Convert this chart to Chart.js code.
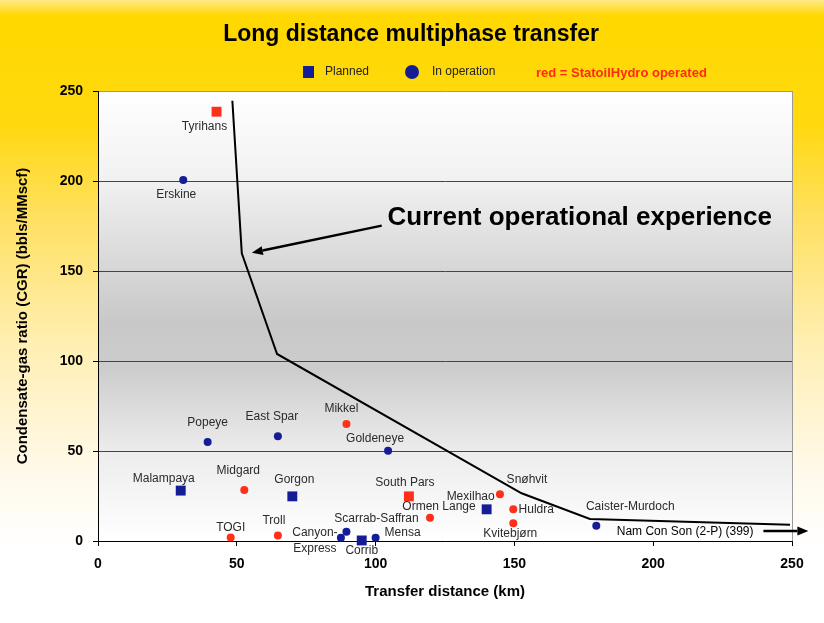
<!DOCTYPE html>
<html>
<head>
<meta charset="utf-8">
<script src="https://cdn.jsdelivr.net/npm/chart.js@4.4.0/dist/chart.umd.min.js"></script>
<style>
html, body { margin: 0; padding: 0; background: #fff; }
#wrap { width: 824px; height: 623px; position: relative; }
</style>
</head>
<body>
<div id="wrap"><canvas id="chart"></canvas></div>
<script>
// projects: name, transfer distance (km), CGR (bbls/MMscf)
const names = ['Tyrihans', 'Erskine', 'Popeye', 'East Spar', 'Mikkel', 'Goldeneye',
  'Malampaya', 'Midgard', 'Gorgon', 'South Pars', 'Snøhvit', 'Mexilhao',
  'Ormen Lange', 'Huldra', 'Kvitebjørn', 'Scarrab-Saffran', ['Canyon-', 'Express'],
  'Corrib', 'Mensa', 'TOGI', 'Troll', 'Caister-Murdoch'];
const distKm = [42.7, 30.7, 39.5, 64.8, 89.5, 104.5,
  29.8, 52.7, 70, 112, 144.8, 140,
  119.6, 149.6, 149.6, 89.5, 87.5,
  95, 100, 47.8, 64.8, 179.5];
const cgr = [238.5, 200.5, 55, 58.2, 65, 50.2,
  28, 28.3, 24.8, 24.8, 26, 17.6,
  12.9, 17.6, 9.8, 5.2, 1.8,
  0.3, 1.8, 2, 3.1, 8.5];
const planned = [true, false, false, false, false, false,
  true, false, true, true, false, true,
  false, false, false, false, false,
  true, false, false, false, false];
const statoil = [true, false, false, false, true, false,
  false, true, false, true, true, false,
  true, true, true, false, false,
  false, false, true, true, false];

// label offsets from the point, px
const labelDx = [-12, -7, 0, -6, -5, -13, -17, -6, 2, -4, 27, -16, 9, 23, -3, 30, -26, 0, 27, 0, -4, 34];
const labelDy = [15, 15, -19, -20, -15, -12, -12, -19, -17, -14, -15, -13, -11, 0, 10, -13, -5, 10, -5, -10, -15, -19];

// current operational experience curve
const expKm = [48.4, 51.8, 64.5, 152.6, 177.2, 249.3];
const expCgr = [244.6, 159.8, 103.9, 26.5, 12.2, 9];

const arrows = [
  { from: [102.2, 175.2], to: [55.4, 160.1] },
  { from: [239.7, 5.6], to: [255.9, 5.6] }
];
const notes = [
  { text: 'Current operational experience', at: [104.3, 179.5], align: 'left', font: 'bold 26px "Liberation Sans", Arial, sans-serif' },
  { text: 'Nam Con Son (2-P) (399)', at: [211.5, 5], align: 'center', font: '12px "Liberation Sans", Arial, sans-serif' }
];

const NAVY = '#141c96';
const RED = '#ff3019';
const FONT = '"Liberation Sans", Arial, sans-serif';

function pts(isPlanned) {
  const out = [];
  names.forEach((n, i) => {
    if (planned[i] === isPlanned) out.push({ x: distKm[i], y: cgr[i], c: statoil[i] ? RED : NAVY });
  });
  return out;
}
const plannedPts = pts(true);
const opPts = pts(false);

const backdrop = {
  id: 'backdrop',
  beforeDraw(chart) {
    const { ctx, width, height, chartArea: a } = chart;
    ctx.save();
    let g = ctx.createLinearGradient(0, 0, 0, height);
    g.addColorStop(0, '#ffe98a');
    g.addColorStop(0.025, '#ffd800');
    g.addColorStop(0.2, '#ffd90f');
    g.addColorStop(0.35, '#ffe062');
    g.addColorStop(0.55, '#ffefb2');
    g.addColorStop(0.75, '#fff9e8');
    g.addColorStop(0.88, '#ffffff');
    ctx.fillStyle = g;
    ctx.fillRect(0, 0, width, height);
    g = ctx.createLinearGradient(0, a.top, 0, a.bottom);
    g.addColorStop(0, '#ffffff');
    g.addColorStop(0.2, '#f1f1f1');
    g.addColorStop(0.4, '#d6d6d6');
    g.addColorStop(0.52, '#c8c8c8');
    g.addColorStop(0.62, '#cdcdcd');
    g.addColorStop(0.8, '#ececec');
    g.addColorStop(1, '#ffffff');
    ctx.fillStyle = g;
    ctx.fillRect(a.left, a.top, a.right - a.left, a.bottom - a.top);
    ctx.restore();
  },
  afterDraw(chart) {
    const { ctx, chartArea: a } = chart;
    const xs = chart.scales.x, ys = chart.scales.y;
    ctx.save();
    // right frame
    ctx.strokeStyle = '#9a9a9a';
    ctx.lineWidth = 1;
    ctx.beginPath();
    ctx.moveTo(a.right + 0.5, a.top);
    ctx.lineTo(a.right + 0.5, a.bottom);
    ctx.stroke();

    // title
    ctx.fillStyle = '#000';
    ctx.textAlign = 'center';
    ctx.textBaseline = 'middle';
    ctx.font = 'bold 23px ' + FONT;
    ctx.fillText('Long distance multiphase transfer', 411, 35);

    // legend
    ctx.fillStyle = NAVY;
    ctx.fillRect(303, 66, 11, 12);
    ctx.beginPath();
    ctx.arc(412, 72, 7, 0, Math.PI * 2);
    ctx.fill();
    ctx.fillStyle = '#222';
    ctx.textAlign = 'left';
    ctx.font = '12px ' + FONT;
    ctx.fillText('Planned', 325, 72);
    ctx.fillText('In operation', 432, 72);
    ctx.fillStyle = '#ff2a10';
    ctx.font = 'bold 13px ' + FONT;
    ctx.fillText('red = StatoilHydro operated', 536, 73);

    // point labels
    ctx.fillStyle = '#2b2b2b';
    ctx.font = '12px ' + FONT;
    ctx.textAlign = 'center';
    names.forEach((n, i) => {
      const px = xs.getPixelForValue(distKm[i]) + labelDx[i];
      const py = ys.getPixelForValue(cgr[i]) + labelDy[i];
      const lines = Array.isArray(n) ? n : [n];
      lines.forEach((t, k) => ctx.fillText(t, px, py + k * 16));
    });

    // notes
    notes.forEach(nt => {
      ctx.font = nt.font;
      ctx.textAlign = nt.align;
      ctx.fillStyle = '#000';
      ctx.fillText(nt.text, xs.getPixelForValue(nt.at[0]), ys.getPixelForValue(nt.at[1]));
    });

    // arrows
    ctx.strokeStyle = '#000';
    ctx.fillStyle = '#000';
    ctx.lineWidth = 2.5;
    arrows.forEach(ar => {
      const x1 = xs.getPixelForValue(ar.from[0]), y1 = ys.getPixelForValue(ar.from[1]);
      const x2 = xs.getPixelForValue(ar.to[0]), y2 = ys.getPixelForValue(ar.to[1]);
      const ang = Math.atan2(y2 - y1, x2 - x1);
      const len = 11, w = 4.5;
      const bx = x2 - len * Math.cos(ang), by = y2 - len * Math.sin(ang);
      ctx.beginPath();
      ctx.moveTo(x1, y1);
      ctx.lineTo(bx, by);
      ctx.stroke();
      ctx.beginPath();
      ctx.moveTo(x2, y2);
      ctx.lineTo(bx + w * Math.sin(ang), by - w * Math.cos(ang));
      ctx.lineTo(bx - w * Math.sin(ang), by + w * Math.cos(ang));
      ctx.closePath();
      ctx.fill();
    });
    ctx.restore();
  }
};

new Chart(document.getElementById('chart'), {
  type: 'scatter',
  data: {
    datasets: [
      {
        label: 'Current operational experience',
        type: 'line',
        data: expKm.map((x, i) => ({ x, y: expCgr[i] })),
        borderColor: '#000',
        borderWidth: 2,
        pointRadius: 0,
        fill: false,
        tension: 0
      },
      {
        label: 'Planned',
        data: plannedPts,
        pointStyle: 'rect',
        pointRadius: 7,
        pointHoverRadius: 7,
        borderWidth: 0,
        backgroundColor: plannedPts.map(p => p.c),
        clip: false
      },
      {
        label: 'In operation',
        data: opPts,
        pointStyle: 'circle',
        pointRadius: 4,
        pointHoverRadius: 4,
        borderWidth: 0,
        backgroundColor: opPts.map(p => p.c),
        clip: false
      }
    ]
  },
  options: {
    responsive: true,
    maintainAspectRatio: false,
    animation: false,
    layout: { padding: { top: 91, right: 32, left: 0, bottom: 0 } },
    plugins: { legend: { display: false }, tooltip: { enabled: false } },
    scales: {
      x: {
        type: 'linear',
        min: 0,
        max: 250,
        afterFit(s) { s.height = 82; },
        ticks: { stepSize: 50, color: '#000', padding: 10, font: { family: FONT, size: 14, weight: 'bold' } },
        grid: { drawOnChartArea: false, tickLength: 5, tickColor: '#000' },
        border: { color: '#000', width: 1 },
        title: {
          display: true,
          text: 'Transfer distance (km)',
          color: '#000',
          font: { family: FONT, size: 15, weight: 'bold' },
          padding: { bottom: 22 }
        }
      },
      y: {
        min: 0,
        max: 250,
        afterFit(s) { s.width = 98; },
        ticks: { stepSize: 50, color: '#000', padding: 10, font: { family: FONT, size: 14, weight: 'bold' } },
        grid: {
          color: ctx => (ctx.tick && ctx.tick.value === 250 ? '#9a9a9a' : '#444'),
          tickColor: '#000',
          tickLength: 5
        },
        border: { color: '#000', width: 1 },
        title: {
          display: true,
          text: 'Condensate-gas ratio (CGR) (bbls/MMscf)',
          color: '#000',
          font: { family: FONT, size: 15, weight: 'bold' },
          padding: { top: 14 }
        }
      }
    }
  },
  plugins: [backdrop]
});
</script>
</body>
</html>
